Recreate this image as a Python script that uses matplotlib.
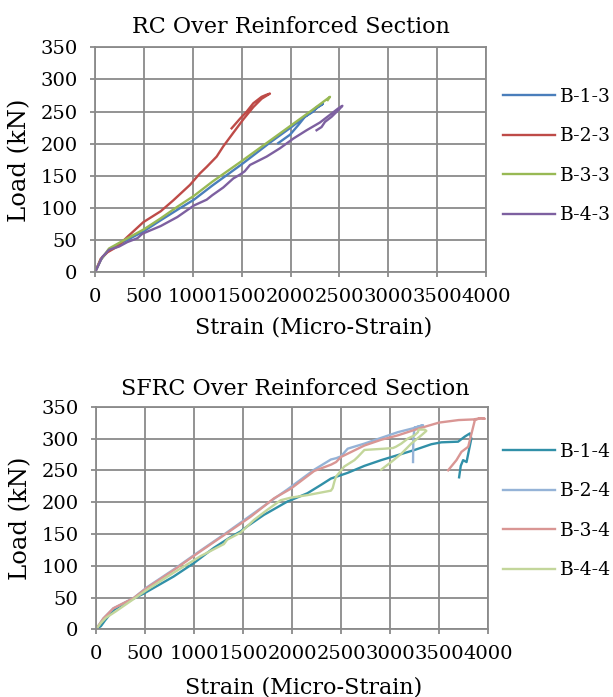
import matplotlib
matplotlib.use("Agg")
import matplotlib.pyplot as plt

# ---------------- data: RC over reinforced ----------------
b13_x = [0, 60, 150, 300, 500, 672, 850, 1012, 1200, 1500, 1800, 2000, 2200, 2300, 2330,
         2300, 2266, 2232, 2147, 2079, 1994, 1874]
b13_y = [0, 20, 36, 48, 64, 81, 98, 113, 135, 168, 203, 225, 248, 259, 262,
         259, 257, 250, 242, 229, 214, 201]

b23_x = [0, 58, 126, 228, 330, 494, 672, 801, 971, 1074, 1142, 1244, 1312, 1414, 1517, 1619,
         1704, 1789, 1750, 1704, 1619, 1551, 1483, 1397]
b23_y = [0, 21, 31, 40, 55, 78, 95, 112, 136, 154, 164, 180, 196, 217, 238, 257,
         270, 278, 276, 273, 263, 250, 239, 224]

b33_x = [0, 58, 143, 296, 501, 672, 842, 1012, 1200, 1500, 1800, 2000, 2200, 2403, 2380]
b33_y = [0, 19, 37, 50, 67, 84, 102, 119, 141, 173, 206, 228, 250, 273, 268]

b43_x = [0, 75, 143, 245, 330, 433, 484, 672, 842, 1012, 1142, 1200, 1312, 1414, 1483, 1530,
         1585, 1755, 1892, 2028, 2164, 2300, 2420, 2488, 2530, 2500, 2420, 2352, 2317, 2266]
b43_y = [0, 24, 35, 40, 47, 53, 60, 72, 86, 104, 113, 120, 132, 146, 152, 157,
         167, 180, 193, 208, 221, 233, 247, 255, 259, 254, 242, 234, 226, 221]

# ---------------- data: SFRC over reinforced ----------------
b14_x = [0, 50, 92, 177, 300, 485, 792, 997, 1202, 1373, 1475, 1544, 1714, 1749, 1954, 1987,
         2158, 2295, 2397, 2568, 2739, 2910, 3081, 3251, 3422, 3524, 3695, 3763, 3815, 3830,
         3798, 3781, 3746, 3722, 3705]
b14_y = [0, 5, 14, 30, 42, 56, 83, 104, 128, 145, 154, 162, 180, 183, 201, 203,
         214, 227, 237, 246, 257, 266, 274, 282, 291, 294, 295, 303, 308, 300,
         276, 263, 266, 257, 239]

b24_x = [0, 75, 177, 383, 519, 792, 1031, 1305, 1578, 1851, 1954, 2227, 2397, 2450, 2500,
         2568, 2739, 2910, 3081, 3234, 3337, 3250, 3238, 3235]
b24_y = [0, 17, 33, 49, 66, 94, 120, 149, 179, 209, 220, 251, 267, 269, 272,
         284, 292, 301, 310, 316, 321, 317, 300, 263]

b34_x = [0, 75, 177, 383, 519, 792, 1031, 1305, 1578, 1817, 1987, 2227, 2400, 2450, 2500,
         2739, 2910, 3081, 3300, 3500, 3700, 3850, 3934, 3968, 3920, 3866, 3832, 3798, 3729,
         3678, 3593]
b34_y = [0, 17, 33, 49, 65, 93, 119, 148, 177, 206, 221, 249, 259, 263, 271,
         289, 298, 305, 316, 325, 329, 330, 332, 331, 332, 329, 308, 287, 279,
         266, 250]

b44_x = [0, 50, 100, 200, 519, 792, 1066, 1305, 1339, 1475, 1612, 1749, 1885, 1987, 2158,
         2295, 2397, 2415, 2432, 2449, 2534, 2637, 2671, 2739, 2841, 2944, 3029, 3060, 3115,
         3183, 3251, 3285, 3292, 3354, 3371, 3320, 3217, 3115, 3012, 2910]
b44_y = [0, 10, 18, 28, 62, 89, 115, 134, 141, 152, 172, 188, 203, 207, 211,
         215, 218, 222, 232, 240, 256, 266, 271, 282, 283, 284, 285, 287, 292,
         300, 305, 310, 314, 314, 312, 305, 292, 276, 263, 251]

top_labels = ["B-1-3", "B-2-3", "B-3-3", "B-4-3"]
bot_labels = ["B-1-4", "B-2-4", "B-3-4", "B-4-4"]
top_colors = ["#4A7EBB", "#BE4B48", "#98B954", "#7D60A0"]
bot_colors = ["#3190A8", "#95B3D7", "#D99694", "#C3D69B"]

x_ticks = [0, 500, 1000, 1500, 2000, 2500, 3000, 3500, 4000]
y_ticks = [0, 50, 100, 150, 200, 250, 300, 350]

plt.rcParams['font.family'] = ['DejaVu Serif']

fig = plt.figure(figsize=(6.13, 6.97), dpi=100)
ax1 = fig.add_axes([0.155, 0.6093, 0.638, 0.3228])
ax2 = fig.add_axes([0.1566, 0.0971, 0.6395, 0.3194])

grid_c = "#8A8A8A"

def style(ax, title, base_y_fig, title_x_fig, xl_x, xl_y):
    ax.set_xlim(0, 4000)
    ax.set_ylim(0, 350)
    ax.set_xticks(x_ticks)
    ax.set_yticks(y_ticks)
    ax.grid(True, color=grid_c, linewidth=1.3)
    ax.set_axisbelow(True)
    for s in ax.spines.values():
        s.set_color(grid_c)
        s.set_linewidth(1.3)
    ax.tick_params(axis='both', direction='out', length=3.6, width=1.3, color=grid_c,
                   labelsize=14, labelcolor='black')
    ax.tick_params(axis='x', pad=7.5)
    ax.tick_params(axis='y', pad=9)
    ax.set_xlabel("Strain (Micro-Strain)", fontsize=16)
    ax.xaxis.label.set_va('baseline')
    ax.xaxis.set_label_coords(xl_x, xl_y)
    ax.set_ylabel("Load (kN)", fontsize=17.5)
    ax.yaxis.set_label_coords(-0.164, 0.5)
    fig.text(title_x_fig, base_y_fig, title, fontsize=16, ha='center', va='baseline')

top_series = [(b13_x, b13_y), (b23_x, b23_y), (b33_x, b33_y), (b43_x, b43_y)]
bot_series = [(b14_x, b14_y), (b24_x, b24_y), (b34_x, b34_y), (b44_x, b44_y)]

for (xs, ys), c, lab in zip(top_series, top_colors, top_labels):
    ax1.plot(xs, ys, color=c, lw=1.7, label=lab, solid_joinstyle='round')
for (xs, ys), c, lab in zip(bot_series, bot_colors, bot_labels):
    ax2.plot(xs, ys, color=c, lw=1.7, label=lab, solid_joinstyle='round')

style(ax1, "RC Over Reinforced Section", 1 - 33 / 697, 290.5 / 613,
      (314 - 95) / 391, (272.3 - 333) / 225)
style(ax2, "SFRC Over Reinforced Section", 1 - 395 / 697, 295.5 / 613,
      (304 - 96) / 392, (629.3 - 693) / 222.6)

for ax, cy in ((ax1, 156), (ax2, 511)):
    ax.legend(loc='center left', bbox_to_anchor=(503 / 613, 1 - cy / 697),
              bbox_transform=fig.transFigure, frameon=False, fontsize=13.5,
              handlelength=2.77, handletextpad=0.27, labelspacing=1.14,
              borderpad=0, borderaxespad=0)

fig.savefig("out.png", dpi=100)
